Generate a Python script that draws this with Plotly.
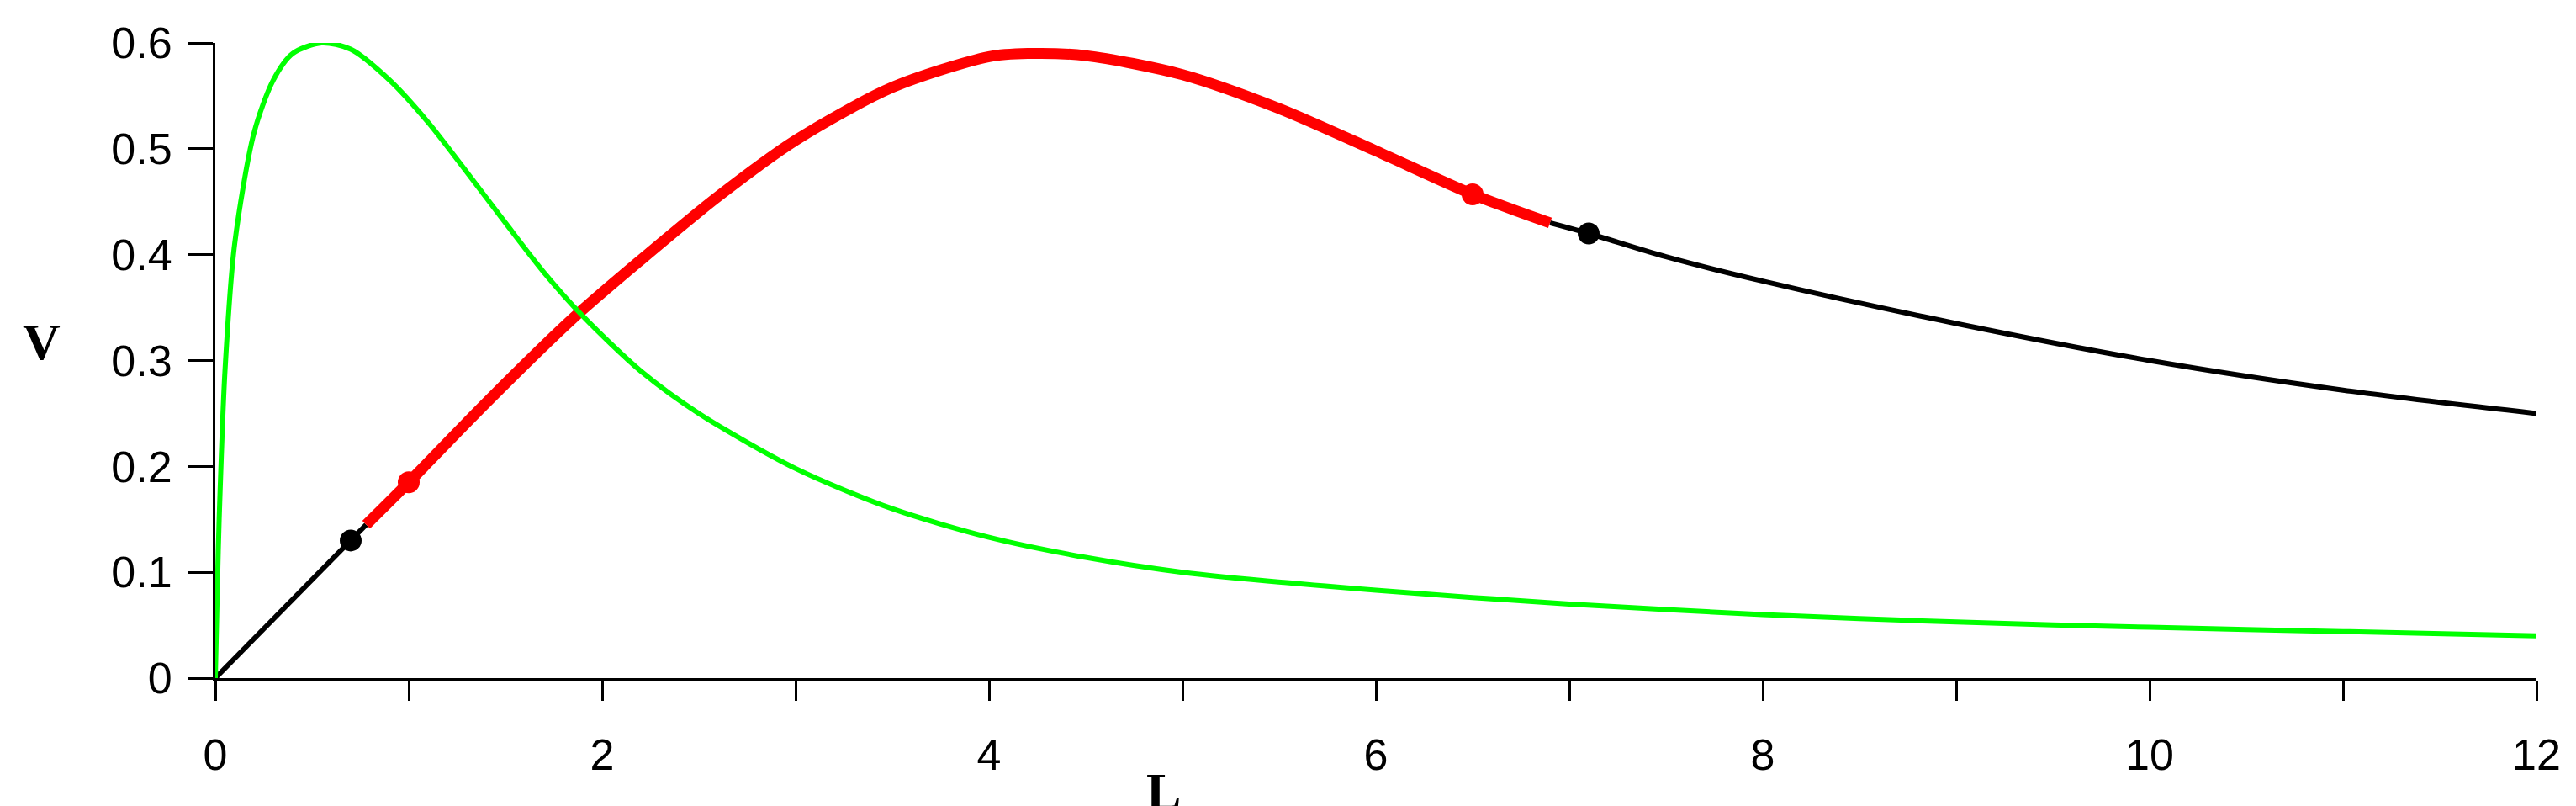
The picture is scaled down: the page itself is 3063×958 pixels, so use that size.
import plotly.graph_objects as go

# green curve
green_L = [0, 0.01, 0.02, 0.05, 0.1, 0.2, 0.3, 0.4, 0.55, 0.7, 0.9, 1.1, 1.3, 1.5, 1.7, 1.9, 2.2, 2.5,
           3.0, 3.5, 4.0, 4.5, 5.0, 6.0, 7.0, 8.0, 9.0, 10.0, 11.0, 12.0]
green_V = [0, 0.08, 0.15, 0.29, 0.41, 0.515, 0.565, 0.59, 0.6, 0.594, 0.565, 0.525, 0.478, 0.43, 0.383,
           0.342, 0.29, 0.25, 0.198, 0.16, 0.133, 0.114, 0.1, 0.083, 0.07, 0.06, 0.053, 0.048, 0.044, 0.04]

# black parts of second curve
black_lo_L = [0, 0.4, 0.78]
black_lo_V = [0, 0.074, 0.145]
black_hi_L = [6.9, 7.1, 7.5, 8.0, 9.0, 10.0, 11.0, 12.0]
black_hi_V = [0.43, 0.42, 0.398, 0.375, 0.335, 0.30, 0.272, 0.25]

# red part
red_L = [0.78, 1.0, 1.4, 1.85, 2.2, 2.6, 3.0, 3.5, 4.0, 4.2, 4.5, 5.0, 5.5, 6.0, 6.5, 6.9]
red_V = [0.145, 0.185, 0.26, 0.34, 0.395, 0.455, 0.508, 0.558, 0.587, 0.59, 0.588, 0.57, 0.538, 0.498, 0.457, 0.43]

black_pts_L = [0.7, 7.1]
black_pts_V = [0.13, 0.42]
red_pts_L = [1.0, 6.5]
red_pts_V = [0.185, 0.457]

fig = go.Figure()
fig.add_trace(go.Scatter(x=black_lo_L, y=black_lo_V, mode="lines", line=dict(color="black", width=6)))
fig.add_trace(go.Scatter(x=black_hi_L, y=black_hi_V, mode="lines", line=dict(color="black", width=6, shape="spline")))
fig.add_trace(go.Scatter(x=red_L, y=red_V, mode="lines", line=dict(color="#ff0000", width=13, shape="spline", smoothing=0.8)))
fig.add_trace(go.Scatter(x=green_L, y=green_V, mode="lines", line=dict(color="#00ff00", width=6, shape="spline", smoothing=0.8)))
fig.add_trace(go.Scatter(x=black_pts_L, y=black_pts_V, mode="markers", marker=dict(color="black", size=26)))
fig.add_trace(go.Scatter(x=red_pts_L, y=red_pts_V, mode="markers", marker=dict(color="#ff0000", size=26)))

tick_font = dict(family="Liberation Sans, Arial", size=52, color="black")
fig.update_layout(
    width=3063, height=958,
    plot_bgcolor="white", paper_bgcolor="white",
    showlegend=False,
    margin=dict(l=248, r=55, t=43, b=160),
    xaxis=dict(range=[0, 12], showgrid=False, zeroline=False, showline=True, linecolor="black", linewidth=3,
               tickvals=list(range(0, 13)), ticktext=[str(i) if i % 2 == 0 else "" for i in range(13)],
               ticks="outside", ticklen=24, tickwidth=3, tickcolor="black", tickfont=tick_font,
               ticklabelstandoff=20),
    yaxis=dict(range=[0, 0.6], showgrid=False, zeroline=False, showline=True, linecolor="black", linewidth=3,
               tickvals=[0, 0.1, 0.2, 0.3, 0.4, 0.5, 0.6], ticktext=["0", "0.1", "0.2", "0.3", "0.4", "0.5", "0.6"],
               ticks="outside", ticklen=30, tickwidth=3, tickcolor="black", tickfont=tick_font,
               ticklabelstandoff=8),
)
title_font = dict(family="Liberation Serif, Times New Roman", size=62, color="black")
fig.add_annotation(text="<b>L</b>", x=4.9 / 12, y=-0.13, xref="paper", yref="paper",
                   showarrow=False, font=title_font, yanchor="top")
fig.add_annotation(text="<b>V</b>", x=-0.075, y=0.53, xref="paper", yref="paper",
                   showarrow=False, font=title_font, xanchor="center")

fig.write_html("out.html")
